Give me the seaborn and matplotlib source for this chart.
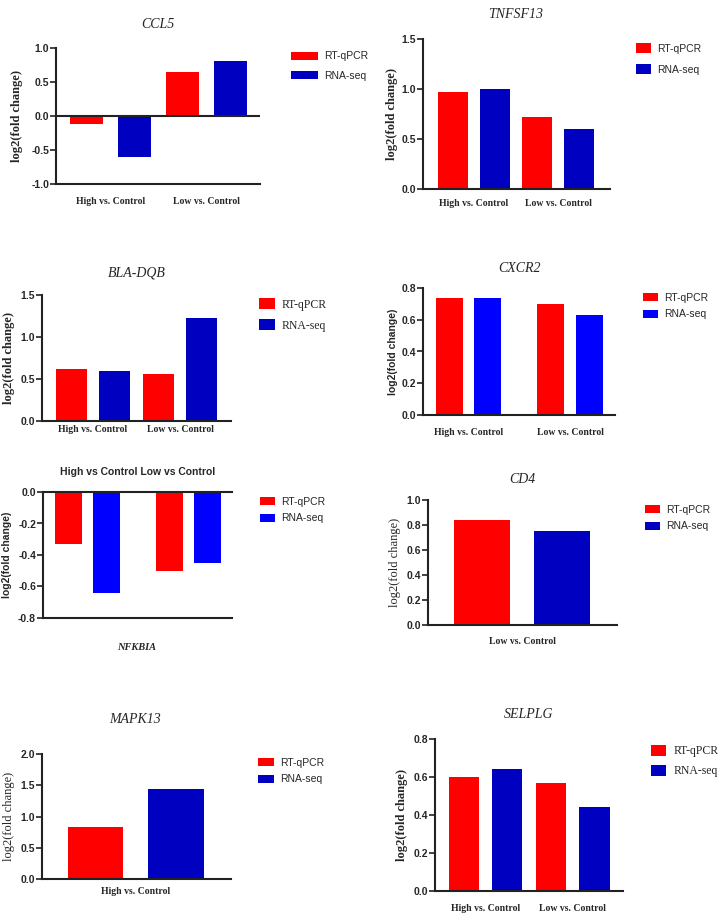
import seaborn as sns
import matplotlib.pyplot as plt
import pandas as pd
import numpy as np

sns.set_style("white")

# Data
methods = ["RT-qPCR", "RNA-seq"]
both_groups = ["High vs. Control", "Low vs. Control"]
high_only = ["High vs. Control"]
low_only = ["Low vs. Control"]

ccl5_rtqpcr = [-0.12, 0.64]
ccl5_rnaseq = [-0.60, 0.81]
tnfsf13_rtqpcr = [0.97, 0.72]
tnfsf13_rnaseq = [1.00, 0.60]
bladqb_rtqpcr = [0.62, 0.56]
bladqb_rnaseq = [0.60, 1.23]
cxcr2_rtqpcr = [0.74, 0.70]
cxcr2_rnaseq = [0.74, 0.63]
nfkbia_rtqpcr = [-0.33, -0.50]
nfkbia_rnaseq = [-0.64, -0.45]
cd4_rtqpcr = [0.84]
cd4_rnaseq = [0.75]
mapk13_rtqpcr = [0.84]
mapk13_rnaseq = [1.44]
selplg_rtqpcr = [0.60, 0.57]
selplg_rnaseq = [0.64, 0.44]

RED = "#FF0000"
DARK_BLUE = "#0000C0"
BLUE = "#0000FF"
SERIF = "Liberation Serif"
SANS = "Liberation Sans"

W, H = 726, 922
fig = plt.figure(figsize=(W / 100, H / 100), dpi=100)


def px_box(left, top, right, bottom):
    return [left / W, 1 - bottom / H, (right - left) / W, (bottom - top) / H]


def fig_xy(x, y):
    return x / W, 1 - y / H


def draw_panel(box, groups, rt, rna, title, title_xy, ylim, yticks, xlim,
               width, gap, blue=DARK_BLUE, ylabel_x=None, ylabel_font=SERIF,
               ylabel_weight="bold", ylabel_size=9, legend_xy=None,
               legend_font=SANS, legend_size=7.5, handle_w=1.4, handle_h=0.9,
               spacing=0.5, title_font=SERIF, title_style="italic",
               title_weight="normal", title_size=10, xlabel_pad=8,
               minor=None, show_xlabels=True, zero_line=False, top_line=False):
    ax = fig.add_axes(px_box(*box))
    df = pd.DataFrame({
        "comparison": list(groups) * 2,
        "value": list(rt) + list(rna),
        "method": [methods[0]] * len(groups) + [methods[1]] * len(groups),
    })
    sns.barplot(data=df, x="comparison", y="value", hue="method",
                hue_order=methods, order=groups, palette=[RED, blue],
                width=width, gap=gap, linewidth=0, saturation=1, ax=ax)

    ax.set_xlim(*xlim)
    ax.set_ylim(*ylim)
    ax.set_yticks(yticks, labels=[f"{t + 0.0:.1f}" for t in yticks],
                  fontfamily=SANS, fontweight="bold", fontsize=7.5)
    centers = np.arange(len(groups))
    ax.set_xticks(centers, labels=groups if show_xlabels else [""] * len(groups),
                  fontfamily=SERIF, fontweight="bold", fontsize=7)
    ax.tick_params(axis="x", which="major", length=0, pad=xlabel_pad)
    ax.set_xticks(minor if minor is not None else [], minor=True)
    ax.tick_params(axis="x", which="minor", length=3, width=1.2, color="#222222")
    ax.tick_params(axis="y", length=4, width=1.2, color="#222222", pad=1,
                   left=True)
    ax.set_xlabel("")

    for side in ["right", "top"]:
        ax.spines[side].set_visible(False)
    for side in ["left", "bottom"]:
        ax.spines[side].set_linewidth(1.5)
        ax.spines[side].set_color("#222222")
    if top_line:
        ax.spines["top"].set_visible(True)
        ax.spines["top"].set_linewidth(1.5)
        ax.spines["top"].set_color("#222222")
    if zero_line:
        ax.axhline(0, color="#222222", linewidth=1.5)

    ax.set_ylabel("log2(fold change)", fontfamily=ylabel_font,
                  fontweight=ylabel_weight, fontsize=ylabel_size)
    left, top, right, bottom = box
    ax.yaxis.set_label_coords((ylabel_x - left) / (right - left), 0.5)

    handles, labels = ax.get_legend_handles_labels()
    ax.legend(handles, labels, loc="center left",
              bbox_to_anchor=fig_xy(*legend_xy), bbox_transform=fig.transFigure,
              frameon=False, borderpad=0, borderaxespad=0,
              handlelength=handle_w, handleheight=handle_h,
              labelspacing=spacing, handletextpad=0.6,
              prop={"family": legend_font, "size": legend_size})

    fig.text(*fig_xy(*title_xy), title, ha="center", va="center",
             fontfamily=title_font, fontstyle=title_style,
             fontweight=title_weight, fontsize=title_size)
    return ax


# CCL5
draw_panel((56, 48, 260, 184), both_groups, ccl5_rtqpcr, ccl5_rnaseq,
           "CCL5", (158, 25), (-1.0, 1.0), [-1.0, -0.5, 0.0, 0.5, 1.0],
           (-0.57, 1.56), 1.0, 0.31, ylabel_x=23, legend_xy=(291, 66),
           handle_w=2.6, handle_h=0.86, spacing=0.9, xlabel_pad=9,
           minor=[-0.25, 0.75], zero_line=True)

# TNFSF13
draw_panel((423, 39, 610, 189), both_groups, tnfsf13_rtqpcr, tnfsf13_rnaseq,
           "TNFSF13", (516, 14), (0, 1.5), [0.0, 0.5, 1.0, 1.5],
           (-0.607, 1.62), 1.0, 0.29, ylabel_x=398, legend_xy=(636, 59),
           handle_w=1.45, handle_h=1.1, spacing=1.05, xlabel_pad=7,
           minor=[-0.25, 0.75])

# BLA-DQB
draw_panel((42, 295, 231, 421), both_groups, bladqb_rtqpcr, bladqb_rnaseq,
           "BLA-DQB", (137, 273), (0, 1.5), [0.0, 0.5, 1.0, 1.5],
           (-0.586, 1.586), 1.0, 0.29, ylabel_x=15, legend_xy=(259, 315),
           legend_font=SERIF, legend_size=8.5, handle_w=1.35, handle_h=0.95,
           spacing=0.75, xlabel_pad=3)

# CXCR2
draw_panel((423, 288, 615, 415), both_groups, cxcr2_rtqpcr, cxcr2_rnaseq,
           "CXCR2", (519, 268), (0, 0.8), [0.0, 0.2, 0.4, 0.6, 0.8],
           (-0.448, 1.443), 0.75, 0.29, blue=BLUE, ylabel_x=398,
           ylabel_font=SANS, ylabel_size=7.5, legend_xy=(643, 306),
           handle_w=1.45, handle_h=0.8, spacing=0.65, xlabel_pad=9,
           minor=[-0.1875, 0.1875, 0.8125, 1.1875])

# NFKBIA
draw_panel((43, 492, 232, 618), both_groups, nfkbia_rtqpcr, nfkbia_rnaseq,
           "High vs Control Low vs Control", (138, 472), (-0.8, 0.0),
           [-0.8, -0.6, -0.4, -0.2, 0.0], (-0.438, 1.433), 0.75, 0.29,
           blue=BLUE, ylabel_x=12, ylabel_font=SANS, ylabel_size=7.5,
           legend_xy=(260, 510), handle_w=1.45, handle_h=0.8, spacing=0.65,
           title_font=SANS, title_style="normal", title_weight="bold",
           title_size=7.5, minor=[0, 1], show_xlabels=False, top_line=True)
fig.text(*fig_xy(137, 648), "NFKBIA", ha="center", va="center",
         fontfamily=SERIF, fontstyle="italic", fontweight="bold", fontsize=7.5)

# CD4
draw_panel((428, 500, 617, 625), low_only, cd4_rtqpcr, cd4_rnaseq,
           "CD4", (522, 479), (0, 1.0), [0.0, 0.2, 0.4, 0.6, 0.8, 1.0],
           (-0.584, 0.59), 1.0, 0.30, ylabel_x=401, ylabel_weight="normal",
           legend_xy=(645, 518), handle_w=1.45, handle_h=0.75, spacing=0.65,
           xlabel_pad=9, minor=[-0.25, 0.25])

# MAPK13
draw_panel((42, 754, 231, 879), high_only, mapk13_rtqpcr, mapk13_rnaseq,
           "MAPK13", (135, 719), (0, 2.0), [0.0, 0.5, 1.0, 1.5, 2.0],
           (-0.582, 0.59), 1.0, 0.31, ylabel_x=15, ylabel_weight="normal",
           legend_xy=(258, 771), handle_w=1.5, handle_h=0.75, spacing=0.65,
           xlabel_pad=6, minor=[-0.25, 0.25])

# SELPLG
draw_panel((435, 739, 623, 891), both_groups, selplg_rtqpcr, selplg_rnaseq,
           "SELPLG", (529, 714), (0, 0.8), [0.0, 0.2, 0.4, 0.6, 0.8],
           (-0.578, 1.576), 1.0, 0.31, ylabel_x=408, legend_xy=(651, 761),
           legend_font=SERIF, legend_size=8.5, handle_w=1.3, handle_h=1.15,
           spacing=0.6, xlabel_pad=9)

fig.savefig("out.png", dpi=100)
plt.close(fig)
